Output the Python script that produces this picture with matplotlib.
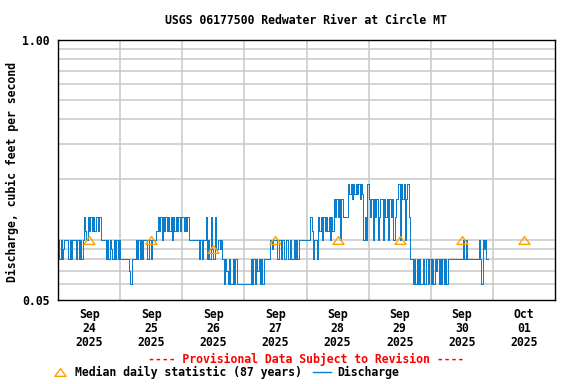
import matplotlib
matplotlib.use("Agg")
import matplotlib.pyplot as plt
from matplotlib.path import Path
from matplotlib.lines import Line2D
import numpy as np

# discharge levels (cfs) keyed by a one-letter code
level_values = {"a": 0.06, "b": 0.07, "c": 0.08, "d": 0.09, "e": 0.10,
                "f": 0.11, "g": 0.13, "i": 0.16, "j": 0.17, "k": 0.19}

# 30-minute readings, one string per day starting Sep 24 00:00
discharge_codes = [
    "ececde" "ee" "cece" "eec" "ecec" "e" "gfegfgfgfggfg" "eeee" "ceced" "cecece",
    "ccccccc" "bac" "cc" "ececec" "eeeceeceee" "fgfgegfgfgfgegfgfgfg",
    "gfgfge" "eeeeee" "ecece" "e" "gcecgdcgdd" "ede" "cacbaca" "acac" "aaaaaa",
    "aaaaa" "cacacbcaca" "ccccc" "edee" "ecceceeceececcecece" "eeeee",
    "eee" "gf" "ceec" "gfgegfgfgegf" "igigieig" "ggg" "kjkikjkjkikjegek",
    "igieigiegiieigieigiegii" "kekikeik" "gcc" "acacacaacaccac",
    "acacbcacacacac" "ccccccccccc" "ece" "ccccccccc" "ecaedec",
]

day_labels = ["Sep\n24\n2025", "Sep\n25\n2025", "Sep\n26\n2025", "Sep\n27\n2025",
              "Sep\n28\n2025", "Sep\n29\n2025", "Sep\n30\n2025", "Oct\n01\n2025"]
median_values = [0.10, 0.10, 0.09, 0.10, 0.10, 0.10, 0.10, 0.10]

codes = "".join(discharge_codes)
flow = [level_values[c] for c in codes]
flow.append(flow[-1])
t = np.arange(len(flow)) / 48.0

mono = "DejaVu Sans Mono"
fs = 8.3
blue = "#0a7dcc"
orange = "#ffa000"

tri = Path([(-1, -0.7), (1, -0.7), (0, 0.7), (-1, -0.7)],
           [Path.MOVETO, Path.LINETO, Path.LINETO, Path.CLOSEPOLY])

fig = plt.figure(figsize=(5.76, 3.84), dpi=100)
ax = fig.add_axes([58 / 576, 1 - 300 / 384, 497 / 576, 260.5 / 384])

ax.set_yscale("log")
ax.set_ylim(0.05, 1.0)
ax.set_xlim(0, 8)

grid_y = [0.06, 0.07, 0.08, 0.09, 0.1, 0.2, 0.3, 0.4, 0.5, 0.6, 0.7, 0.8, 0.9]
for y in grid_y:
    ax.axhline(y, color="#c8c8c8", lw=1.1, zorder=0)
for d in range(1, 8):
    ax.axvline(d, color="#c8c8c8", lw=1.1, zorder=0)

ax.step(t, flow, where="post", color=blue, lw=0.72, antialiased=False, zorder=2)
ax.plot(np.arange(8) + 0.5, median_values, linestyle="none", marker=tri,
        markersize=8, markerfacecolor="none", markeredgecolor=orange,
        markeredgewidth=1.0, zorder=3)

ax.yaxis.set_minor_locator(matplotlib.ticker.NullLocator())
ax.set_yticks([0.05, 1.0])
ax.set_yticklabels(["0.05", "1.00"], fontfamily=mono, fontweight="bold", fontsize=fs)
ax.set_xticks(np.arange(8) + 0.5)
ax.set_xticklabels(day_labels, fontfamily=mono, fontweight="bold", fontsize=fs,
                   linespacing=1.1)
ax.tick_params(axis="both", length=0)
ax.tick_params(axis="x", pad=6)
ax.tick_params(axis="y", pad=6)
for s in ax.spines.values():
    s.set_linewidth(1.0)

fig.text(306 / 576, 1 - 20 / 384, "USGS 06177500 Redwater River at Circle MT",
         ha="center", va="center", fontfamily=mono, fontweight="bold", fontsize=fs)
fig.text(12 / 576, 1 - 172 / 384, "Discharge, cubic feet per second", rotation=90,
         ha="center", va="center", fontfamily=mono, fontweight="bold", fontsize=fs)
fig.text(306 / 576, 1 - 359 / 384, "---- Provisional Data Subject to Revision ----",
         ha="center", va="center", color="red", fontfamily=mono, fontweight="bold",
         fontsize=fs)

# legend row
ly = 1 - 372 / 384
fig.add_artist(Line2D([60 / 576], [ly], marker=tri, markersize=8, linestyle="none",
                      markerfacecolor="none", markeredgecolor=orange,
                      markeredgewidth=1.0))
fig.text(75 / 576, ly, "Median daily statistic (87 years)", ha="left", va="center",
         fontfamily=mono, fontweight="bold", fontsize=fs)
fig.add_artist(Line2D([313 / 576, 331 / 576], [ly, ly], color=blue, lw=1.0))
fig.text(337 / 576, ly, "Discharge", ha="left", va="center",
         fontfamily=mono, fontweight="bold", fontsize=fs)

fig.savefig("out.png", dpi=100)
